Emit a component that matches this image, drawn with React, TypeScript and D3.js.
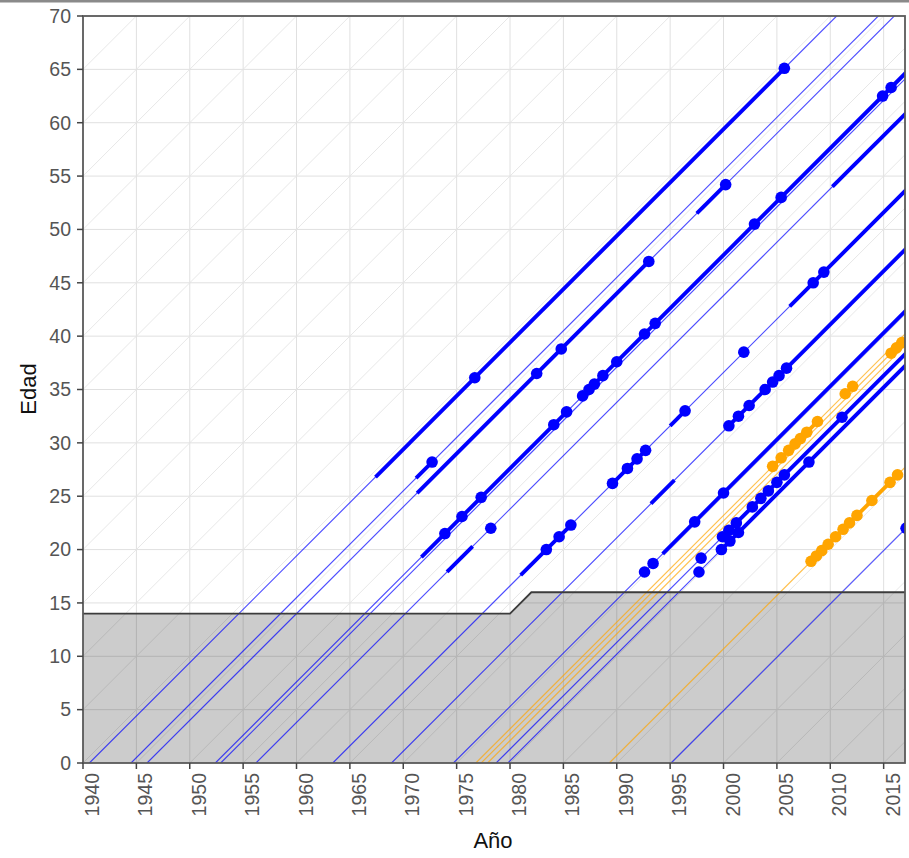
import React from "react";
import * as d3 from "d3";

// ---- data ----
const xTicks = [1940, 1945, 1950, 1955, 1960, 1965, 1970, 1975, 1980, 1985, 1990, 1995, 2000, 2005, 2010, 2015];
const yTicks = [0, 5, 10, 15, 20, 25, 30, 35, 40, 45, 50, 55, 60, 65, 70];

// minimum-age threshold (shaded area)
const thrYears = [1940, 1980, 1982, 2017];
const thrAges = [14, 14, 16, 16];

// individuals: birth year + group
const personBirth = [1940.6, 1944.5, 1946.0, 1952.4, 1952.9, 1956.2, 1963.4, 1968.9, 1974.7, 1978.7, 1979.8, 1995.1, 1976.8, 1977.3, 1977.9, 1989.3];
const personGroup = ["a", "a", "a", "a", "a", "a", "a", "a", "a", "a", "a", "a", "b", "b", "b", "b"];

// thick periods per person: flat list of [from, to] age pairs
const personThick: number[][] = [
  [26.8, 65.1],
  [26.7, 28.2],
  [25.3, 47.0, 51.5, 54.2],
  [19.3, 33.1, 34.3, 70],
  [],
  [17.9, 20.3, 54.0, 70],
  [17.6, 22.3, 26.0, 29.4, 31.6, 33.3, 42.8, 70],
  [24.3, 26.5, 31.3, 70],
  [19.6, 70],
  [21.0, 70],
  [20.0, 70],
  [],
  [27.7, 32.3, 34.3, 35.4],
  [],
  [],
  [18.8, 27.3],
];

// event ages per person (dots)
const personDots: number[][] = [
  [36.1, 65.1],
  [28.2],
  [36.5, 38.8, 47.0, 54.2],
  [21.5, 23.1, 24.9, 31.7, 32.9, 34.4, 35.0, 35.5, 36.3, 37.6, 40.2, 41.2, 50.5, 53.0, 62.5, 63.3],
  [],
  [22.0],
  [20.0, 21.2, 22.3, 26.2, 27.6, 28.5, 29.3, 33.0, 38.5, 45.0, 46.0],
  [31.6, 32.5, 33.5, 35.0, 35.7, 36.3, 37.0],
  [17.9, 18.7, 22.6, 25.3],
  [19.2, 21.2, 21.8, 22.5, 24.0, 24.8, 25.5, 26.3, 27.0, 32.4],
  [17.9, 20.0, 20.8, 21.6, 28.2],
  [22.0],
  [27.8, 28.6, 29.3, 29.9, 30.4, 31.0, 32.0, 34.6, 35.3],
  [38.4, 38.9, 39.4],
  [],
  [18.9, 19.4, 19.9, 20.5, 21.2, 21.9, 22.5, 23.2, 24.6, 26.3, 27.0],
];

const groupColor: Record<string, string> = { a: "#0000FF", b: "#FFA500" };

export default function App() {
  const W = 909, H = 858;
  const L = 83, R = 905, T = 16, B = 763;
  const x = d3.scaleLinear().domain([1940, 2017]).range([L, R]);
  const y = d3.scaleLinear().domain([0, 70]).range([B, T]);

  const diag: number[] = d3.range(1870, 2020, 5);

  const thrArea = d3.area<number>()
    .x((_, i) => x(thrYears[i]))
    .y0(() => y(0))
    .y1((_, i) => y(thrAges[i]));
  const thrLine = d3.line<number>()
    .x((_, i) => x(thrYears[i]))
    .y((_, i) => y(thrAges[i]));

  const cohort = (b: number, a0: number, a1: number) => {
    const aMax = Math.min(a1, 2017.5 - b, 70.5);
    const aMin = Math.max(a0, 1940 - b, 0);
    return { x1: x(b + aMin), y1: y(aMin), x2: x(b + aMax), y2: y(aMax) };
  };

  const segs: { p: number; a0: number; a1: number }[] = [];
  personThick.forEach((arr, p) => {
    for (let k = 0; k + 1 < arr.length; k += 2) segs.push({ p, a0: arr[k], a1: arr[k + 1] });
  });
  const dots: { p: number; a: number }[] = [];
  personDots.forEach((arr, p) => arr.forEach((a) => dots.push({ p, a })));

  return (
    <svg width={W} height={H} style={{ position: "absolute", left: 0, top: 0, background: "#fff" }}
      fontFamily="'Liberation Sans', Arial, sans-serif">
      <defs>
        <clipPath id="panel">
          <rect x={L} y={T} width={R - L} height={B - T} />
        </clipPath>
      </defs>
      <rect x={0} y={0} width={W} height={H} fill="#fff" />
      <rect x={0} y={0} width={W} height={2.5} fill="#8a8a8a" />
      <g clipPath="url(#panel)">
        {xTicks.map((t) => (
          <line key={"gx" + t} x1={x(t)} x2={x(t)} y1={T} y2={B} stroke="#e0e0e0" strokeWidth={1} />
        ))}
        {yTicks.map((t) => (
          <line key={"gy" + t} x1={L} x2={R} y1={y(t)} y2={y(t)} stroke="#e0e0e0" strokeWidth={1} />
        ))}
        {diag.map((c) => (
          <line key={"gd" + c} x1={x(c)} y1={y(0)} x2={x(c + 80)} y2={y(80)} stroke="#e4e4e4" strokeWidth={0.9} />
        ))}
        <path d={thrArea(thrYears) || ""} fill="#000" fillOpacity={0.2} />
        {personBirth.map((b, i) => {
          const c = cohort(b, 0, 80);
          return (
            <line key={"p" + i} {...c} stroke={groupColor[personGroup[i]]} strokeOpacity={0.7} strokeWidth={1.15} />
          );
        })}
        {segs.map((s, i) => {
          const c = cohort(personBirth[s.p], s.a0, s.a1);
          return (
            <line key={"s" + i} {...c} stroke={groupColor[personGroup[s.p]]} strokeWidth={3.9} />
          );
        })}
        {dots.map((d, i) => {
          const b = personBirth[d.p];
          return (
            <circle key={"d" + i} cx={x(b + d.a)} cy={y(d.a)} r={5.8} fill={groupColor[personGroup[d.p]]} />
          );
        })}
        <path d={thrLine(thrYears) || ""} fill="none" stroke="#3c3c3c" strokeWidth={1.8} />
      </g>
      <rect x={L} y={T} width={R - L} height={B - T} fill="none" stroke="#5a5a5a" strokeWidth={1.8} />
      {yTicks.map((t) => (
        <g key={"ty" + t}>
          <line x1={L - 6} x2={L} y1={y(t)} y2={y(t)} stroke="#444" strokeWidth={1.5} />
          <text x={L - 12} y={y(t)} dy="0.35em" textAnchor="end" fontSize={19.5} fill="#555">{t}</text>
        </g>
      ))}
      {xTicks.map((t) => (
        <g key={"tx" + t}>
          <line x1={x(t)} x2={x(t)} y1={B} y2={B + 6} stroke="#444" strokeWidth={1.5} />
          <text transform={`translate(${x(t) + 16},${B + 10}) rotate(-90)`} textAnchor="end" fontSize={19.5} fill="#555">{t}</text>
        </g>
      ))}
      <text x={493} y={848} textAnchor="middle" fontSize={22} fill="#111">Año</text>
      <text transform={`translate(36,389) rotate(-90)`} textAnchor="middle" fontSize={22} fill="#111">Edad</text>
    </svg>
  );
}
